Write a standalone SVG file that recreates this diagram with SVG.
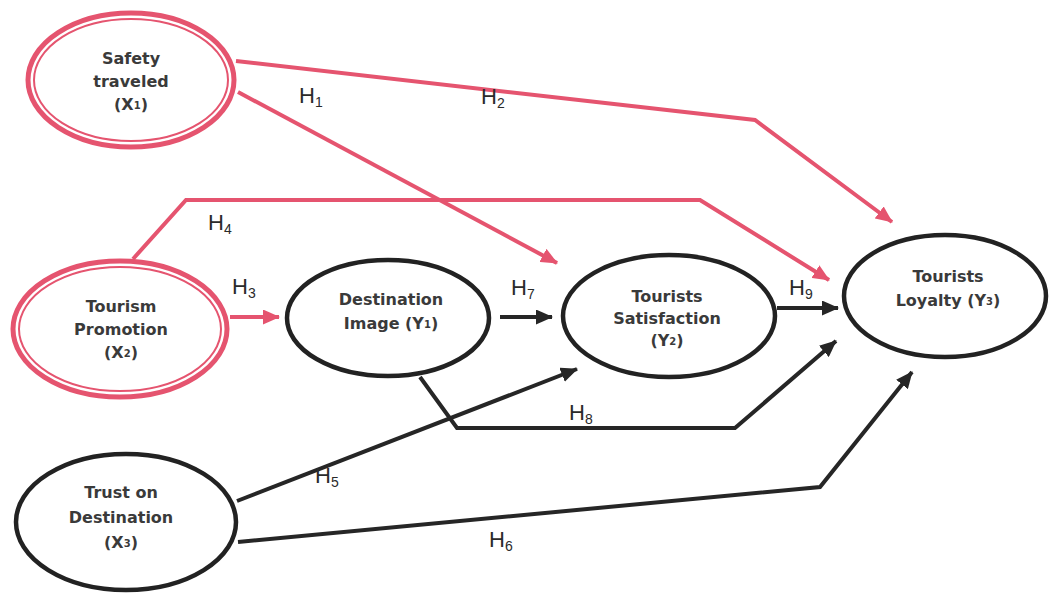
<svg xmlns="http://www.w3.org/2000/svg" width="1049" height="595" viewBox="0 0 1049 595">
  <style>
    .node-label { font-family: "DejaVu Sans", "Liberation Sans", sans-serif; font-weight: bold; font-size: 16px; fill: #3a3a3a; text-anchor: middle; }
    .sub { font-size: 10px; }
    .hyp { font-family: "Liberation Sans", Arial, sans-serif; font-size: 22px; fill: #2a2a2a; }
    .hsub { font-size: 14px; }
    .ring-outer { fill: none; stroke: #e5546f; stroke-width: 5; }
    .ring-inner { fill: none; stroke: #e5546f; stroke-width: 2; }
    .oval { fill: none; stroke: #222; stroke-width: 4.5; }
    .link-pink { fill: none; stroke: #e5546f; stroke-width: 4; stroke-linejoin: miter; marker-end: url(#headPink); }
    .link-dark { fill: none; stroke: #262626; stroke-width: 4; stroke-linejoin: miter; marker-end: url(#headDark); }
  </style>
  <defs>
    <marker id="headPink" markerUnits="userSpaceOnUse" markerWidth="17" markerHeight="15" refX="16" refY="7.5" orient="auto">
      <path d="M0,0 L17,7.5 L0,15 z" fill="#e5546f"/>
    </marker>
    <marker id="headDark" markerUnits="userSpaceOnUse" markerWidth="17" markerHeight="15" refX="16" refY="7.5" orient="auto">
      <path d="M0,0 L17,7.5 L0,15 z" fill="#262626"/>
    </marker>
  </defs>

  <rect x="0" y="0" width="1049" height="595" fill="#ffffff"/>

  <!-- connectors -->
  <g id="connectors">
    <!-- H1: safety -> satisfaction -->
    <path class="link-pink" d="M238,92 L557,263"/>
    <!-- H2: safety -> loyalty -->
    <path class="link-pink" d="M236,61 L755,120 L892,222"/>
    <!-- H4: promotion -> loyalty -->
    <path class="link-pink" d="M133,259 L186,200 L700,200 L829,280"/>
    <!-- H3: promotion -> image -->
    <path class="link-pink" d="M230,317 L279,317"/>
    <!-- H7: image -> satisfaction -->
    <path class="link-dark" d="M500,317 L552,317"/>
    <!-- H9: satisfaction -> loyalty -->
    <path class="link-dark" d="M777,308 L838,308"/>
    <!-- H8: image -> loyalty -->
    <path class="link-dark" d="M420,377 L457,428 L735,428 L836,341"/>
    <!-- H5: trust -> satisfaction -->
    <path class="link-dark" d="M237,501 L577,369"/>
    <!-- H6: trust -> loyalty -->
    <path class="link-dark" d="M238,542 L820,487 L912,372"/>
  </g>

  <!-- hypothesis labels -->
  <g id="hypotheses">
    <text class="hyp" x="299" y="103">H<tspan class="hsub" dy="4">1</tspan></text>
    <text class="hyp" x="481" y="104">H<tspan class="hsub" dy="4">2</tspan></text>
    <text class="hyp" x="232" y="294">H<tspan class="hsub" dy="4">3</tspan></text>
    <text class="hyp" x="208" y="230">H<tspan class="hsub" dy="4">4</tspan></text>
    <text class="hyp" x="315" y="483">H<tspan class="hsub" dy="4">5</tspan></text>
    <text class="hyp" x="489" y="547">H<tspan class="hsub" dy="4">6</tspan></text>
    <text class="hyp" x="511" y="295">H<tspan class="hsub" dy="4">7</tspan></text>
    <text class="hyp" x="569" y="420">H<tspan class="hsub" dy="4">8</tspan></text>
    <text class="hyp" x="789" y="295">H<tspan class="hsub" dy="4">9</tspan></text>
  </g>

  <!-- exogenous constructs -->
  <g id="safety-traveled">
    <ellipse class="ring-outer" cx="131" cy="80" rx="103" ry="67"/>
    <ellipse class="ring-inner" cx="131" cy="80" rx="97" ry="61"/>
    <text class="node-label" x="131" y="64">Safety</text>
    <text class="node-label" x="131" y="87">traveled</text>
    <text class="node-label" x="131" y="110">(X<tspan class="sub" dy="-1">1</tspan><tspan dy="1">)</tspan></text>
  </g>

  <g id="tourism-promotion">
    <ellipse class="ring-outer" cx="120" cy="329" rx="107" ry="68"/>
    <ellipse class="ring-inner" cx="120" cy="329" rx="101" ry="62"/>
    <text class="node-label" x="121" y="312">Tourism</text>
    <text class="node-label" x="121" y="335">Promotion</text>
    <text class="node-label" x="121" y="358">(X<tspan class="sub" dy="-1">2</tspan><tspan dy="1">)</tspan></text>
  </g>

  <g id="trust-on-destination">
    <ellipse class="oval" cx="126" cy="522" rx="110" ry="68"/>
    <text class="node-label" x="121" y="498">Trust on</text>
    <text class="node-label" x="121" y="523">Destination</text>
    <text class="node-label" x="121" y="548">(X<tspan class="sub" dy="-1">3</tspan><tspan dy="1">)</tspan></text>
  </g>

  <!-- endogenous constructs -->
  <g id="destination-image">
    <ellipse class="oval" cx="388" cy="318" rx="101" ry="58"/>
    <text class="node-label" x="391" y="305">Destination</text>
    <text class="node-label" x="391" y="329">Image  (Y<tspan class="sub" dy="-1">1</tspan><tspan dy="1">)</tspan></text>
  </g>

  <g id="tourists-satisfaction">
    <ellipse class="oval" cx="669" cy="316" rx="106" ry="61"/>
    <text class="node-label" x="667" y="302">Tourists</text>
    <text class="node-label" x="667" y="324">Satisfaction</text>
    <text class="node-label" x="667" y="346">(Y<tspan class="sub" dy="-1">2</tspan><tspan dy="1">)</tspan></text>
  </g>

  <g id="tourists-loyalty">
    <ellipse class="oval" cx="945" cy="296" rx="101" ry="61"/>
    <text class="node-label" x="948" y="282">Tourists</text>
    <text class="node-label" x="948" y="306">Loyalty (Y<tspan class="sub" dy="-1">3</tspan><tspan dy="1">)</tspan></text>
  </g>
</svg>
